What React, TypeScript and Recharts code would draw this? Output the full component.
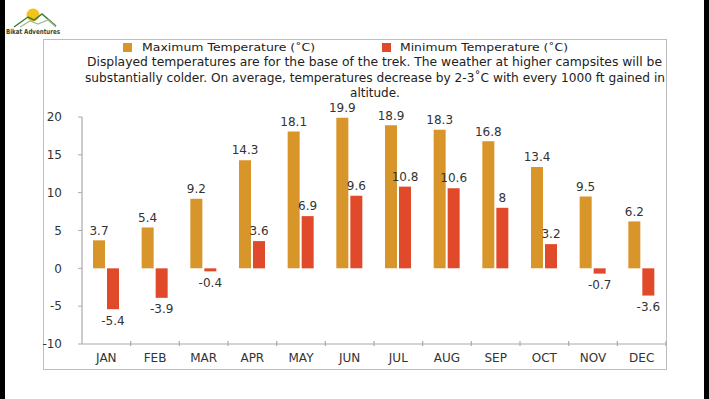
import React from "react";
import { BarChart, Bar, XAxis, YAxis, LabelList } from "recharts";

const months = ["JAN", "FEB", "MAR", "APR", "MAY", "JUN", "JUL", "AUG", "SEP", "OCT", "NOV", "DEC"];
const maxTemps = [3.7, 5.4, 9.2, 14.3, 18.1, 19.9, 18.9, 18.3, 16.8, 13.4, 9.5, 6.2];
const minTemps = [-5.4, -3.9, -0.4, 3.6, 6.9, 9.6, 10.8, 10.6, 8, 3.2, -0.7, -3.6];
const yTicks = [-10, -5, 0, 5, 10, 15, 20];
const legendLabels = ["Maximum Temperature (˚C)", "Minimum Temperature (˚C)"];
const subtitleLines = [
  "Displayed temperatures are for the base of the trek. The weather at higher campsites will be",
  "substantially colder. On average, temperatures decrease by 2-3˚C with every 1000 ft gained in",
  "altitude.",
];

const data = months.map((m, i) => ({ month: m, max: maxTemps[i], min: minTemps[i] }));

const MAX_COLOR = "#D8952A";
const MIN_COLOR = "#E04A2B";
const FONT = "'DejaVu Sans', Verdana, sans-serif";

const W = 709;
const H = 399;
const MARGIN = { top: 117, right: 43, bottom: 25, left: 42 };
const Y_AXIS_W = 40;
const X_AXIS_H = 30;
const PLOT_W = W - MARGIN.left - Y_AXIS_W - MARGIN.right;
const BAND = PLOT_W / months.length;
const TICK_MARGIN = 14;

const XTick = (props: any) => {
  const { x, y, payload } = props;
  const axisY = y - TICK_MARGIN;
  return (
    <g>
      <line x1={x + BAND / 2} x2={x + BAND / 2} y1={axisY - 3} y2={axisY + 2} stroke="#aaa" strokeWidth={1.2} />
      <text x={x} y={y} dy="0.36em" textAnchor="middle" fontSize={12} fill="#333" fontFamily={FONT}>
        {payload.value}
      </text>
    </g>
  );
};

const ValueLabel = (props: any) => {
  const { x, y, width, height, value } = props;
  const top = Math.min(y, y + height);
  const bottom = Math.max(y, y + height);
  const cx = x + width / 2;
  const ty = value >= 0 ? top - 10 : bottom + 11;
  return (
    <text x={cx} y={ty} dy="0.36em" textAnchor="middle" fontSize={12} fill="#333" fontFamily={FONT}>
      {value}
    </text>
  );
};

export default function App() {
  return (
    <div style={{ position: "absolute", left: 0, top: 0, width: W, height: H, background: "#fff", overflow: "hidden" }}>
      <div style={{ position: "absolute", left: 0, top: 0, width: 5, height: H, background: "#000" }} />
      <div style={{ position: "absolute", left: 704, top: 0, width: 5, height: H, background: "#000" }} />
      <div
        style={{
          position: "absolute",
          left: 43,
          top: 39,
          width: 622,
          height: 329,
          border: "1.5px solid #bdbdbd",
          boxSizing: "content-box",
        }}
      />
      <svg style={{ position: "absolute", left: 0, top: 0 }} width={W} height={110}>
        {/* logo */}
        <circle cx={33} cy={15} r={6.5} fill="#F2C318" />
        <path d="M14 27 L28 17 L34 20 L42 14 L56 26" fill="none" stroke="#3E7A3A" strokeWidth={1.5} />
        <path d="M20 27 L30 21 L38 24 L48 20 L56 27" fill="none" stroke="#9DBE8A" strokeWidth={1.2} />
        <text x={6} y={34} fontSize={7} fontWeight="bold" fill="#2E4A30" fontFamily={FONT} textLength={54} lengthAdjust="spacingAndGlyphs">
          Bikat Adventures
        </text>
        {/* legend */}
        <rect x={123} y={43} width={9} height={9} fill={MAX_COLOR} />
        <text x={142} y={47.5} dy="0.36em" fontSize={11} fill="#222" fontFamily={FONT} textLength={173} lengthAdjust="spacingAndGlyphs">
          {legendLabels[0]}
        </text>
        <rect x={382} y={43} width={9} height={9} fill={MIN_COLOR} />
        <text x={400} y={47.5} dy="0.36em" fontSize={11} fill="#222" fontFamily={FONT} textLength={168} lengthAdjust="spacingAndGlyphs">
          {legendLabels[1]}
        </text>
        {/* subtitle */}
        <text x={87} y={62} dy="0.36em" fontSize={12} fill="#222" fontFamily={FONT} textLength={575} lengthAdjust="spacingAndGlyphs">
          {subtitleLines[0]}
        </text>
        <text x={85} y={77.5} dy="0.36em" fontSize={12} fill="#222" fontFamily={FONT} textLength={580} lengthAdjust="spacingAndGlyphs">
          {subtitleLines[1]}
        </text>
        <text x={375} y={93} dy="0.36em" textAnchor="middle" fontSize={12} fill="#222" fontFamily={FONT}>
          {subtitleLines[2]}
        </text>
      </svg>
      <div style={{ position: "absolute", left: 0, top: 0 }}>
        <BarChart width={W} height={H} data={data} margin={MARGIN} barSize={12} barGap={2}>
          <XAxis
            dataKey="month"
            height={X_AXIS_H}
            axisLine={{ stroke: "#aaa", strokeWidth: 1.2 }}
            tickLine={false}
            tickSize={0}
            tickMargin={TICK_MARGIN}
            tick={<XTick />}
            interval={0}
          />
          <YAxis
            width={Y_AXIS_W}
            domain={[-10, 20]}
            ticks={yTicks}
            interval={0}
            axisLine={{ stroke: "#aaa", strokeWidth: 1.2 }}
            tickLine={{ stroke: "#aaa" }}
            tickSize={4}
            tickMargin={16}
            tick={{ fontSize: 12, fill: "#333", fontFamily: FONT }}
          />
          <Bar dataKey="max" fill={MAX_COLOR} isAnimationActive={false}>
            <LabelList dataKey="max" content={<ValueLabel />} />
          </Bar>
          <Bar dataKey="min" fill={MIN_COLOR} isAnimationActive={false}>
            <LabelList dataKey="min" content={<ValueLabel />} />
          </Bar>
        </BarChart>
      </div>
    </div>
  );
}
